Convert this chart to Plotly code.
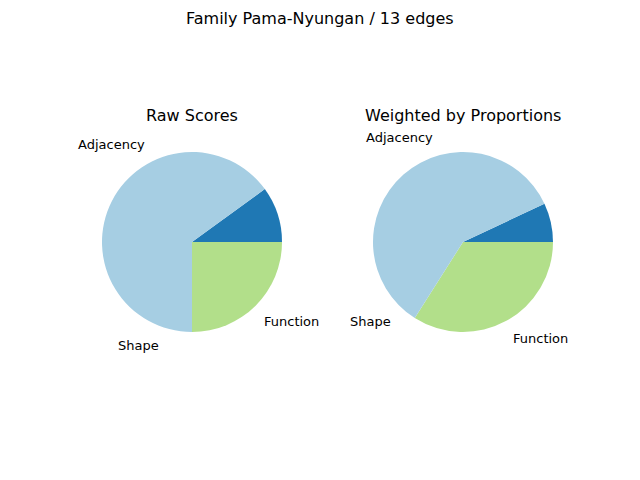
import math
import plotly.graph_objects as go

labels = ["Adjacency", "Shape", "Function"]
raw_scores = [65, 10, 25]
weighted_scores = [59, 7, 34]
colors = ["#a6cee3", "#1f78b4", "#b2df8a"]

W, H = 640, 480
OFF = 8  # page body margin in the browser
R = 90  # pie radius in px
centers = [(192 - OFF, 242 - OFF), (463 - OFF, 242 - OFF)]
titles = ["Raw Scores", "Weighted by Proportions"]

fig = go.Figure()
annotations = []
for (cx, cy), vals, title in zip(centers, [raw_scores, weighted_scores], titles):
    # plotly lays slices out so reversing gives matplotlib's CCW-from-3-o'clock order
    fig.add_trace(go.Pie(
        labels=labels[::-1], values=vals[::-1], sort=False,
        direction="counterclockwise", rotation=90,
        marker=dict(colors=colors[::-1]), textinfo="none",
        hoverinfo="label+percent", showlegend=False,
        domain=dict(x=[(cx - R) / W, (cx + R) / W],
                    y=[(H - cy - R) / H, (H - cy + R) / H]),
    ))
    # matplotlib-style labels at 1.1 * radius, mid-angle of each wedge
    total = sum(vals)
    start = 0.0
    for lab, v in zip(labels, vals):
        mid = math.radians(start + 360 * v / total / 2)
        lx = cx + 1.1 * R * math.cos(mid)
        ly = cy - 1.1 * R * math.sin(mid)
        annotations.append(dict(
            x=lx / W, y=1 - ly / H, xref="paper", yref="paper", text=lab,
            showarrow=False, font=dict(size=13),
            xanchor="left" if math.cos(mid) >= 0 else "right",
            yanchor="bottom" if math.sin(mid) >= 0 else "top"))
        start += 360 * v / total
    annotations.append(dict(x=cx / W, y=1 - (115 - OFF) / H, xref="paper", yref="paper",
                            text=title, showarrow=False, font=dict(size=16),
                            xanchor="center", yanchor="middle"))

annotations.append(dict(x=(320 - OFF) / W, y=1 - (18 - OFF) / H, xref="paper",
                        yref="paper", text="Family Pama-Nyungan / 13 edges",
                        showarrow=False, font=dict(size=16),
                        xanchor="center", yanchor="middle"))

fig.update_layout(
    width=W, height=H, margin=dict(l=0, r=0, t=0, b=0),
    paper_bgcolor="white", font=dict(family="DejaVu Sans", color="black"),
    annotations=annotations,
)
fig.write_html("out.html")
